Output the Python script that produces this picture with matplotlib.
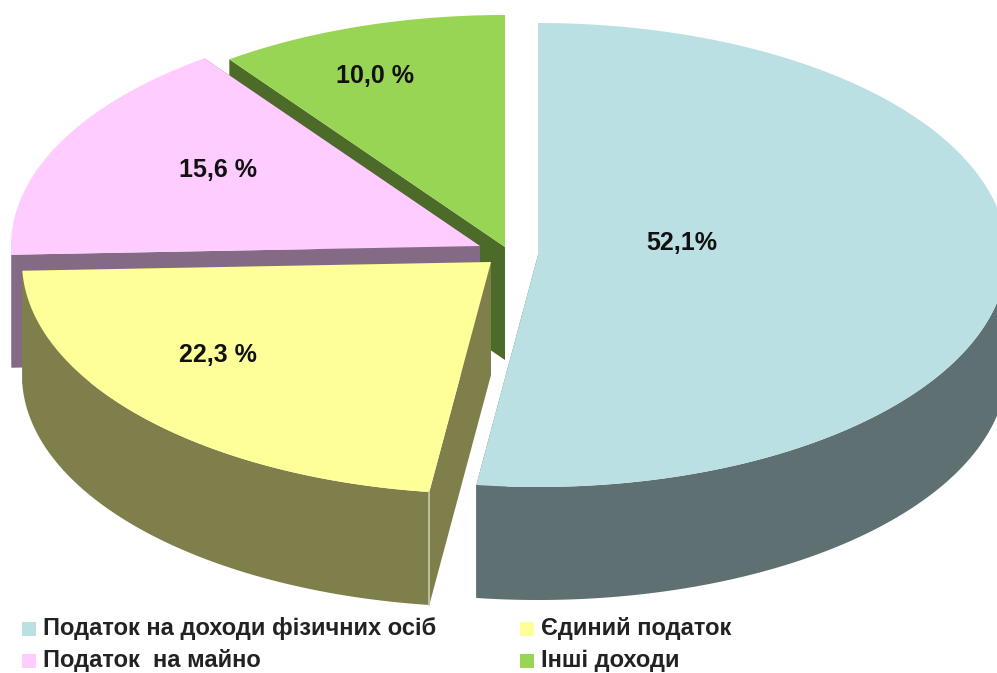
import numpy as np
import matplotlib
matplotlib.use('Agg')
import matplotlib.pyplot as plt
from matplotlib.patches import Polygon, Rectangle

plt.rcParams['font.family'] = ['Liberation Sans', 'DejaVu Sans']

names = ['Податок на доходи фізичних осіб', 'Єдиний податок',
         'Податок  на майно', 'Інші доходи']
shares = [52.1, 22.3, 15.6, 10.0]
share_labels = ['52,1%', '22,3 %', '15,6 %', '10,0 %']

top_colors = ['#bbe0e3', '#ffff99', '#ffccff', '#99d555']
side_colors = ['#5e7071', '#7f7f4c', '#856a85', '#4c6a28']

# slice apex in pixels, each slice is pulled out of the pie a bit
apex = [(538, 255), (491, 262), (480, 246), (505, 247)]
label_pos = [(682, 243), (218, 355), (218, 170), (375, 76)]
legend_pos = [(29, 629), (527, 629), (29, 661), (527, 661)]

rx, ry = 469, 232
depth = 113


def rim(cx, cy, t0, t1):
    """points on the ellipse going from angle t0 to t1 (degrees)"""
    t = np.radians(np.linspace(t0, t1, 200))
    return np.column_stack([cx + rx*np.cos(t), cy - ry*np.sin(t)])


def draw_slice(ax, center, t0, t1, top, side, line=None):
    cx, cy = center
    arc = rim(cx, cy, t0, t1)
    down = np.array([0, depth])

    # cut faces first, then the outer wall, then the top
    for p in (arc[0], arc[-1]):
        face = [center, p, p + down, (cx, cy + depth)]
        ax.add_patch(Polygon(face, closed=True, fc=side, ec='none'))
    # the wall only shows on the front half of the ellipse
    lo, hi = max(min(t0, t1), -180), min(max(t0, t1), 0)
    if lo < hi:
        front = rim(cx, cy, lo, hi)
        wall = np.vstack([front, (front + down)[::-1]])
        ax.add_patch(Polygon(wall, closed=True, fc=side, ec='none'))
    ax.add_patch(Polygon(np.vstack([center, arc]), closed=True, fc=top, ec='none'))
    if line:
        p = arc[0]
        ax.plot([p[0], p[0]], [p[1], p[1] + depth], color=line, lw=1.2)


fig = plt.figure(figsize=(9.97, 6.73), dpi=100)
ax = fig.add_axes([0, 0, 1, 1])
ax.set_xlim(0, 997)
ax.set_ylim(673, 0)
ax.axis('off')

# angles run clockwise from 12 o'clock
edges = 90 - np.concatenate([[0], np.cumsum(shares)]) * 3.6
for i in [3, 2, 0, 1]:
    draw_slice(ax, apex[i], edges[i], edges[i+1], top_colors[i], side_colors[i],
               line='#c9c9a8' if i == 1 else None)

for lab, (x, y) in zip(share_labels, label_pos):
    ax.text(x, y, lab, ha='center', va='center', fontsize=18,
            fontweight='bold', color='#111111')

for name, col, (x, y) in zip(names, top_colors, legend_pos):
    ax.add_patch(Rectangle((x - 7, y - 7), 14, 14, fc=col, ec='none'))
    ax.text(x + 14, y, name, ha='left', va='center', fontsize=17,
            fontweight='bold', color='#222222')

fig.savefig('out.png', dpi=100)
